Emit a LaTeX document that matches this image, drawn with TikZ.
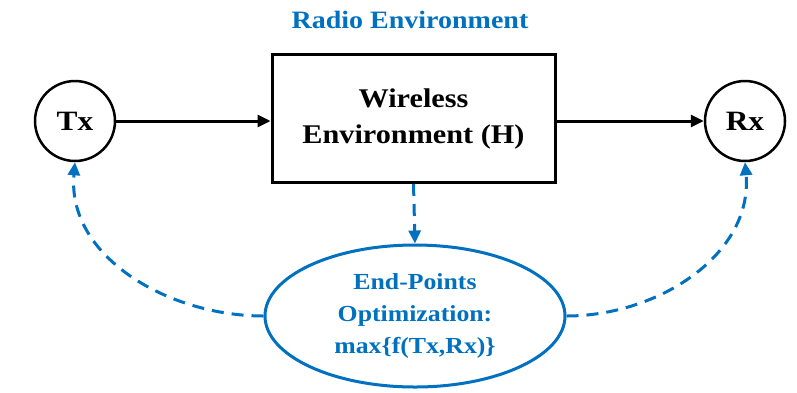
\documentclass[tikz,border=0pt]{standalone}
\usepackage{fontspec}
\setmainfont[FakeStretch=1.12]{Liberation Serif}
\usetikzlibrary{arrows.meta,shapes.geometric}
\definecolor{ublue}{HTML}{0070C0}
\begin{document}
\begin{tikzpicture}[x=1pt,y=-1pt,
  endpoint/.style={circle,draw=black,line width=2.5pt,minimum size=80pt,inner sep=0pt,
    font=\fontsize{28}{30}\selectfont\bfseries},
  envbox/.style={rectangle,draw=black,line width=3pt,minimum width=283pt,minimum height=128pt,
    inner sep=0pt,align=center,font=\fontsize{27}{36}\selectfont\bfseries},
  optell/.style={ellipse,draw=ublue,line width=3pt,minimum width=300pt,minimum height=142pt,
    inner sep=0pt,align=center,text=ublue,font=\fontsize{23}{32}\selectfont\bfseries},
  titletext/.style={text=ublue,font=\fontsize{25}{30}\selectfont\bfseries},
  flow/.style={draw=black,line width=3pt,-{Triangle[length=13pt,width=12pt]}},
  ctrl/.style={draw=ublue,line width=3pt,dash pattern=on 12pt off 8pt,
    -{Triangle[length=13pt,width=12pt]}}]
\useasboundingbox (0,0) rectangle (797,392);
\node[titletext] (title) at (410,20) {Radio Environment};
\node[endpoint] (tx) at (75,121) {Tx};
\node[endpoint] (rx) at (745,121) {Rx};
\node[envbox] (env) at (413.5,118.5) {Wireless\\Environment (H)};
\node[optell] (opt) at (415,316) {End-Points\\Optimization:\\max\{f(Tx,Rx)\}};
\draw[flow] (tx.east) -- (tx.east -| env.west);
\draw[flow] (rx.west -| env.east) -- (rx.west);
\draw[ctrl] (env.south) -- (opt.north);
\draw[ctrl] (opt.west) to[out=180,in=-95] (tx.south);
\draw[ctrl] (opt.east) to[out=0,in=-85] (rx.south);
\end{tikzpicture}
\end{document}
